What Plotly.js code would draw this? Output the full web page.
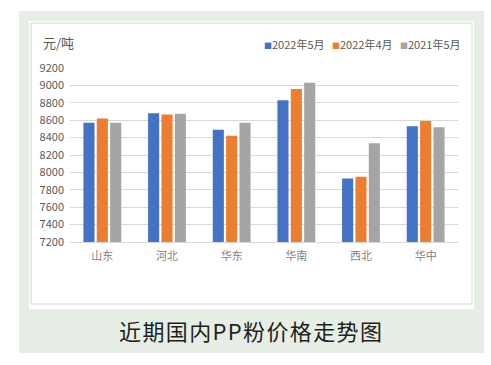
<!DOCTYPE html>
<html>
<head>
<meta charset="utf-8">
<script src="https://cdn.plot.ly/plotly-3.0.1.min.js"></script>
<style>html,body{margin:0;padding:0;background:#fff;}#chart{width:491px;height:365px;}</style>
</head>
<body>
<div id="chart"></div>
<script>
const categories = ['山东', '河北', '华东', '华南', '西北', '华中'];
const seriesNames = ['2022年5月', '2022年4月', '2021年5月'];
const may2022 = [8570, 8680, 8490, 8830, 7930, 8530];
const apr2022 = [8620, 8665, 8420, 8960, 7950, 8590];
const may2021 = [8570, 8675, 8570, 9030, 8335, 8520];
const yTicks = [7200, 7400, 7600, 7800, 8000, 8200, 8400, 8600, 8800, 9000, 9200];
const unitLabel = '元/吨';
const chartTitle = '近期国内PP粉价格走势图';

const colors = ['#4472C4', '#ED7D31', '#A5A5A5'];
const FONT = '"Noto Sans CJK SC", "Noto Sans", sans-serif';

const traces = [may2022, apr2022, may2021].map((vals, i) => ({
  type: 'bar',
  name: seriesNames[i],
  x: categories,
  y: vals,
  marker: {color: colors[i]},
  hoverinfo: 'x+y+name'
}));

// plot area in pixels: x 70..458, y 68..242
const L = 70, R = 458, T = 68, B = 242;
const px = v => (v - L) / (R - L);
const py = v => (B - v) / (B - T);

const legendX = [262, 330, 398];
const legendAnn = seriesNames.map((n, i) => ({
  xref: 'paper', yref: 'paper', x: px(legendX[i]), y: py(44),
  xanchor: 'left', yanchor: 'middle', showarrow: false,
  text: '<span style="color:' + colors[i] + ';font-size:8px">■</span>' + n,
  font: {family: FONT, size: 11, color: '#595959'}
}));

const layout = {
  width: 491, height: 365,
  margin: {l: L, r: 491 - R, t: T, b: 365 - B, pad: 0},
  paper_bgcolor: '#ffffff',
  plot_bgcolor: 'rgba(0,0,0,0)',
  showlegend: false,
  barmode: 'group',
  bargap: 0.38,
  bargroupgap: 0.17,
  font: {family: FONT, size: 11, color: '#595959'},
  xaxis: {
    type: 'category',
    showgrid: false,
    showline: true, linecolor: '#d9d9d9', linewidth: 1,
    ticks: '', tickfont: {family: FONT, size: 11, color: '#7f7f7f'},
    ticklabelstandoff: 4,
    zeroline: false
  },
  yaxis: {
    range: [7200, 9200],
    tickvals: yTicks,
    ticktext: yTicks.map(String),
    showgrid: true, gridcolor: '#d9d9d9', gridwidth: 1,
    zeroline: false, showline: false, ticks: '',
    tickfont: {family: FONT, size: 11, color: '#595959'},
    ticklabelstandoff: 5
  },
  shapes: [
    {type: 'rect', xref: 'paper', yref: 'paper', layer: 'below',
     x0: px(19), x1: px(484), y0: py(11), y1: py(353),
     fillcolor: '#e7eee5', line: {width: 0}},
    {type: 'rect', xref: 'paper', yref: 'paper', layer: 'below',
     x0: px(29), x1: px(474), y0: py(21), y1: py(309),
     fillcolor: '#ffffff', line: {width: 0}},
    {type: 'rect', xref: 'paper', yref: 'paper', layer: 'below',
     x0: px(31), x1: px(472), y0: py(23), y1: py(304),
     fillcolor: '#ffffff', line: {width: 1, color: '#d6d6d6'}}
  ],
  annotations: [
    {xref: 'paper', yref: 'paper', x: px(41), y: py(42), xanchor: 'left', yanchor: 'middle',
     showarrow: false, text: unitLabel, font: {family: FONT, size: 13, color: '#595959'}},
    {xref: 'paper', yref: 'paper', x: px(250), y: py(330), xanchor: 'center', yanchor: 'middle',
     showarrow: false, text: chartTitle.split('').join('\u200A'),
     font: {family: FONT, size: 22, color: '#231f20'}}
  ].concat(legendAnn)
};

Plotly.newPlot('chart', traces, layout, {displayModeBar: false, staticPlot: true});
</script>
</body>
</html>
